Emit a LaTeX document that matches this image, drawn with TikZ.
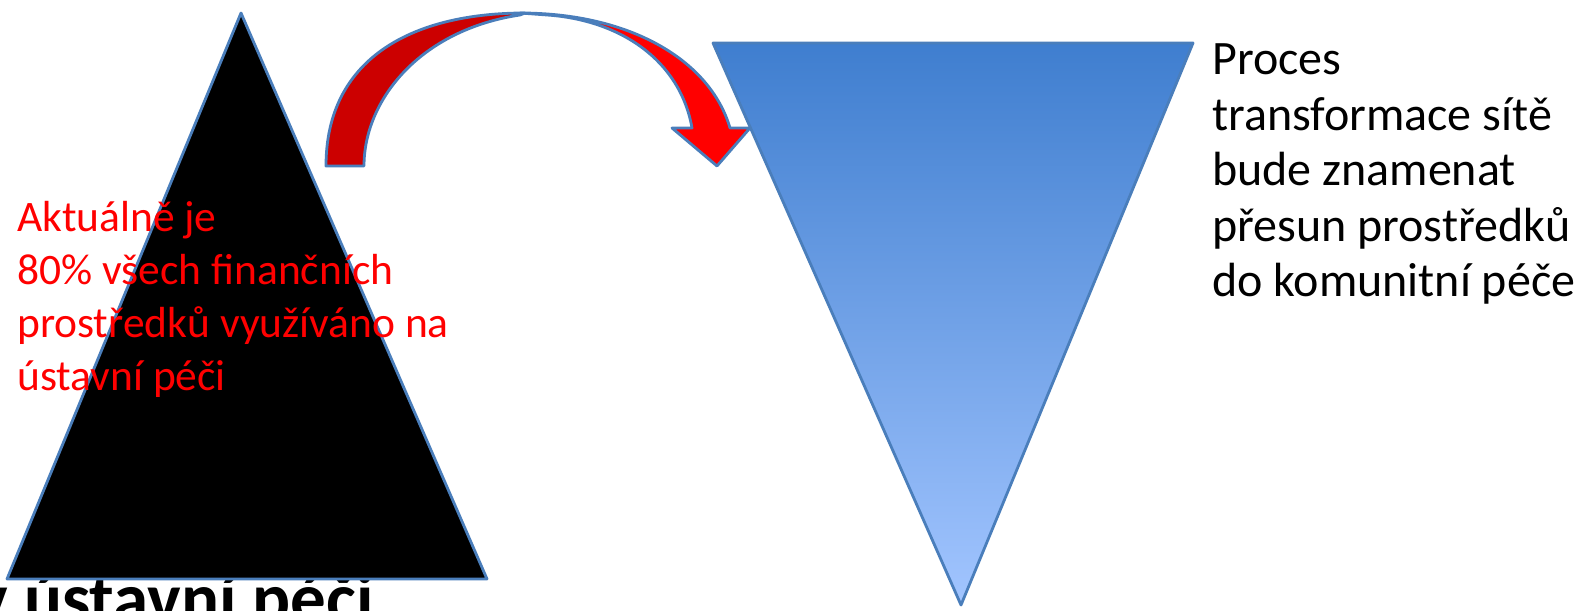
\documentclass[tikz,border=0pt]{standalone}
\usepackage{fontspec}
\setmainfont{Carlito}
\definecolor{edgeblue}{RGB}{74,126,187}
\definecolor{funneltop}{RGB}{63,126,207}
\definecolor{funnelbot}{RGB}{162,197,255}
\definecolor{arrowdark}{RGB}{204,0,0}
\definecolor{arrowred}{RGB}{255,0,0}
\tikzset{
  outline/.style={draw=edgeblue, line width=2.8pt, line join=round},
  pyramid/.style={outline, fill=black},
  funnel/.style={outline, top color=funneltop, bottom color=funnelbot},
  bandback/.style={outline, fill=arrowdark},
  bandfront/.style={outline, fill=arrowred},
  note/.style={inner sep=0pt, align=left, anchor=base west}
}

\begin{document}
\begin{tikzpicture}[x=1pt, y=1pt]
\clip (0,0) rectangle (1581,610);
\fill[white] (0,0) rectangle (1581,610);
% corners of the two triangles
\coordinate (ptop) at (241,597);
\coordinate (pleft) at (7,31);
\coordinate (pright) at (487,31);
\coordinate (fleft) at (713,567);
\coordinate (fright) at (1193,567);
\coordinate (ftip) at (961,5);
\node[anchor=base east, inner sep=0pt, font=\bfseries\fontsize{71}{80}\selectfont] (legacy) at (374,-12) {v ústavní péči};
\draw[pyramid] (pleft) -- (ptop) -- (pright) -- cycle;
\draw[funnel] (fleft) -- (fright) -- (ftip) -- cycle;
% curved arrow, back and front half
\draw[bandback] (326,444) .. controls (326,550) and (410,597) .. (525,597)
  -- (520,595) .. controls (420,580) and (364,510) .. (364,444) -- cycle;
\draw[bandfront] (520,597) .. controls (630,597) and (710,550) .. (730,482)
  -- (750,482) -- (717,444) -- (672,482) -- (692,482)
  .. controls (680,550) and (620,590) .. (547,595) -- cycle;
\node[note, text=red, font=\fontsize{43.5}{53}\selectfont] (now) at (17,219)
  {Aktuálně je\\80\% všech finančních\\prostředků využíváno na\\ústavní péči};
\node[note, font=\fontsize{48}{55.5}\selectfont] (plan) at (1212,313)
  {Proces\\transformace sítě\\bude znamenat\\přesun prostředků\\do komunitní péče};
\end{tikzpicture}
\end{document}
